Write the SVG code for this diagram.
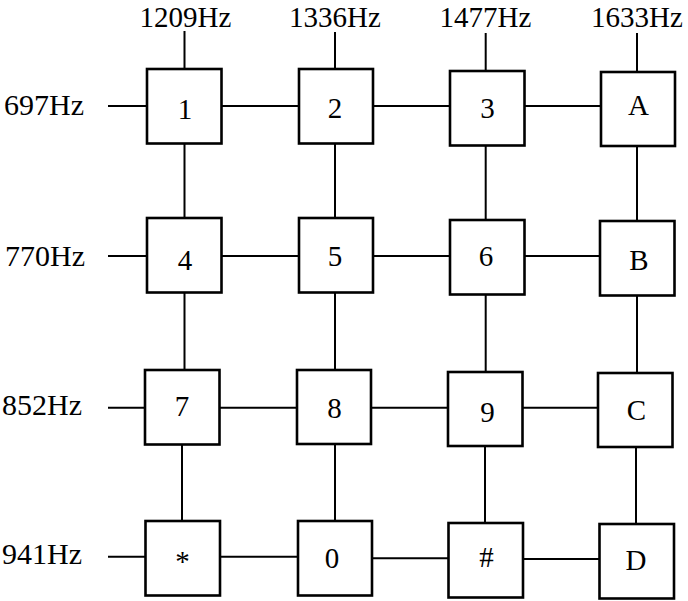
<svg xmlns="http://www.w3.org/2000/svg" width="688" height="601" viewBox="0 0 688 601">
<style>
  .ln { stroke: #000; stroke-width: 2; fill: none; }
  .box { fill: #fff; stroke: #000; stroke-width: 2.6; }
  .lbl { font-family: "Liberation Serif", "Times New Roman", serif; font-size: 30px; fill: #000; }
  .top { font-size: 29px; text-anchor: middle; }
  .key { font-family: "Liberation Serif", "Times New Roman", serif; font-size: 29px; fill: #000; text-anchor: middle; }
</style>
<rect width="688" height="601" fill="#fff"/>
<g id="labels">
  <text class="lbl top" x="185.5" y="26.5">1209Hz</text>
  <text class="lbl top" x="335" y="26.5">1336Hz</text>
  <text class="lbl top" x="485.5" y="26.5">1477Hz</text>
  <text class="lbl top" x="637" y="26.5">1633Hz</text>
  <text class="lbl" x="84" y="115" text-anchor="end">697Hz</text>
  <text class="lbl" x="85" y="266" text-anchor="end">770Hz</text>
  <text class="lbl" x="82" y="415" text-anchor="end">852Hz</text>
  <text class="lbl" x="82" y="564" text-anchor="end">941Hz</text>
</g>
<g id="connectors">
  <line class="ln" x1="184.5" y1="31" x2="184.5" y2="370"/>
  <line class="ln" x1="182" y1="445" x2="182" y2="521"/>
  <line class="ln" x1="335" y1="32" x2="335" y2="521"/>
  <line class="ln" x1="485.7" y1="33" x2="485.7" y2="372"/>
  <line class="ln" x1="485" y1="447" x2="485" y2="523"/>
  <line class="ln" x1="637" y1="33" x2="637" y2="373"/>
  <line class="ln" x1="636" y1="448" x2="636" y2="524"/>
  <line class="ln" x1="108" y1="106" x2="601" y2="106"/>
  <line class="ln" x1="108" y1="256" x2="600" y2="256"/>
  <line class="ln" x1="108" y1="407.7" x2="598" y2="407.7"/>
  <line class="ln" x1="108" y1="556.7" x2="298" y2="556.7"/>
  <line class="ln" x1="372" y1="558.3" x2="448" y2="558.3"/>
  <line class="ln" x1="522" y1="559" x2="599" y2="559"/>
</g>
<g id="key-1"><rect class="box" x="147" y="69" width="74.5" height="74.5"/><text class="key" x="185" y="119">1</text></g>
<g id="key-2"><rect class="box" x="299" y="69" width="74" height="74.5"/><text class="key" x="335" y="118">2</text></g>
<g id="key-3"><rect class="box" x="450" y="71" width="74.5" height="74.5"/><text class="key" x="487.5" y="118">3</text></g>
<g id="key-A"><rect class="box" x="601" y="72" width="74" height="74"/><text class="key" x="638.5" y="114.5">A</text></g>
<g id="key-4"><rect class="box" x="147" y="218" width="74.5" height="74.5"/><text class="key" x="185" y="270">4</text></g>
<g id="key-5"><rect class="box" x="299" y="218" width="74" height="74.5"/><text class="key" x="335" y="266">5</text></g>
<g id="key-6"><rect class="box" x="450" y="220" width="74.5" height="74.5"/><text class="key" x="486" y="266">6</text></g>
<g id="key-B"><rect class="box" x="600" y="221" width="74.5" height="74.5"/><text class="key" x="639" y="270">B</text></g>
<g id="key-7"><rect class="box" x="145" y="370" width="74.5" height="74.5"/><text class="key" x="182" y="416">7</text></g>
<g id="key-8"><rect class="box" x="297" y="370" width="74" height="74"/><text class="key" x="334.5" y="418">8</text></g>
<g id="key-9"><rect class="box" x="448" y="372" width="74.5" height="74"/><text class="key" x="487.5" y="422">9</text></g>
<g id="key-C"><rect class="box" x="598" y="373" width="74.5" height="74"/><text class="key" x="636.5" y="420">C</text></g>
<g id="key-star"><rect class="box" x="145.5" y="521" width="74.5" height="74.5"/><text class="key" x="182.5" y="571">*</text></g>
<g id="key-0"><rect class="box" x="298" y="521" width="74" height="74.5"/><text class="key" x="332" y="568">0</text></g>
<g id="key-hash"><rect class="box" x="448.5" y="523" width="74.5" height="74.5"/><text class="key" x="486.5" y="567">#</text></g>
<g id="key-D"><rect class="box" x="599.5" y="524" width="74.5" height="74.5"/><text class="key" x="636" y="570">D</text></g>
</svg>
